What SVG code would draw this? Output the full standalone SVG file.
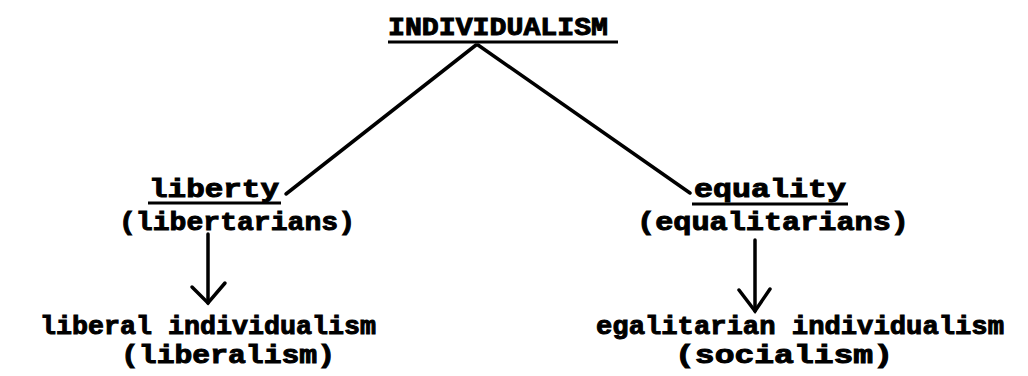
<svg xmlns="http://www.w3.org/2000/svg" width="1028" height="376" viewBox="0 0 1028 376">
<style>
text{font-family:"Liberation Mono","Courier New",monospace;font-weight:bold;font-size:26px;fill:#000;stroke:#000;stroke-width:1;text-anchor:middle}
.u{stroke:#000;stroke-width:3}
.c{stroke:#000;stroke-width:3.5;fill:none;stroke-linecap:round}
</style>
<rect width="1028" height="376" fill="#fff"/>
<g id="connectors">
<line class="c" x1="476" y1="45" x2="286" y2="194"/>
<line class="c" x1="478" y1="45" x2="690" y2="193"/>
<path class="c" d="M208 234 L208 303"/>
<path class="c" d="M192 287 L208 303 L225 283"/>
<path class="c" d="M755 240 L755 311"/>
<path class="c" d="M739 290 L755 311 L770 289"/>
</g>
<g id="individualism">
<text x="498" y="35" textLength="220" lengthAdjust="spacingAndGlyphs">INDIVIDUALISM</text>
<line class="u" x1="388" y1="42" x2="618" y2="42"/>
</g>
<g id="liberty">
<text x="214" y="197" textLength="130" lengthAdjust="spacingAndGlyphs">liberty</text>
<line class="u" x1="148" y1="203" x2="281" y2="203"/>
<text x="237" y="230" textLength="236" lengthAdjust="spacingAndGlyphs">(libertarians)</text>
</g>
<g id="equality">
<text x="770" y="197" textLength="152" lengthAdjust="spacingAndGlyphs">equality</text>
<line class="u" x1="692" y1="204" x2="848" y2="204"/>
<text x="773" y="230" textLength="272" lengthAdjust="spacingAndGlyphs">(equalitarians)</text>
</g>
<g id="liberal-individualism">
<text x="208" y="334" textLength="336" lengthAdjust="spacingAndGlyphs">liberal individualism</text>
<text x="228" y="363" textLength="214" lengthAdjust="spacingAndGlyphs">(liberalism)</text>
</g>
<g id="egalitarian-individualism">
<text x="800" y="334" textLength="408" lengthAdjust="spacingAndGlyphs">egalitarian individualism</text>
<text x="784" y="363" textLength="218" lengthAdjust="spacingAndGlyphs">(socialism)</text>
</g>
</svg>
